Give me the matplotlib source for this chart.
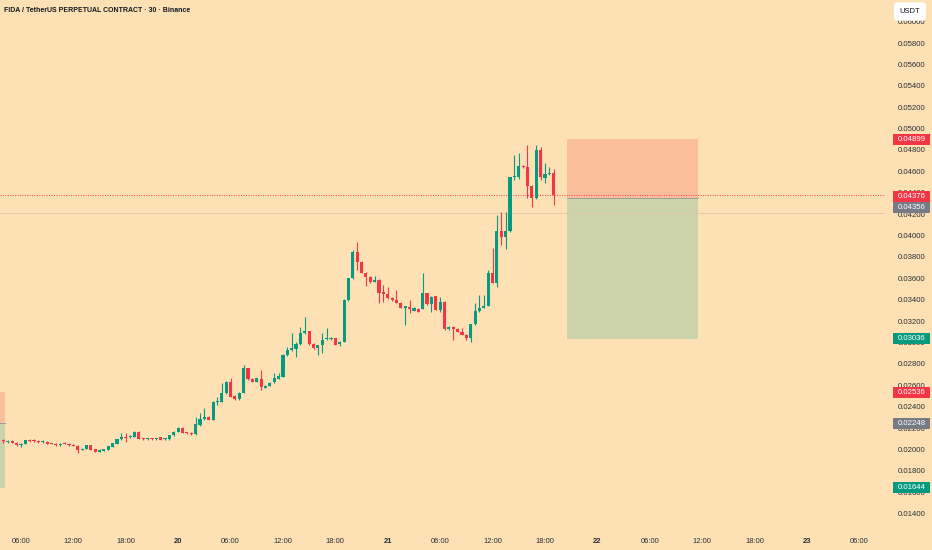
import numpy as np
import matplotlib.pyplot as plt
from matplotlib.patches import Rectangle
from matplotlib.transforms import blended_transform_factory
from matplotlib import font_manager

## Candles: FIDA/USDT 30 min, starting 19th 04:00 (hours counted from the 19th 00:00)
start_hour = 4.0
step_hours = 0.5

opens = [0.02085, 0.02071, 0.02080, 0.02064, 0.02043, 0.02052, 0.02087, 0.02090, 0.02080, 0.02071,
         0.02074, 0.02062, 0.02055, 0.02043, 0.02059, 0.02052, 0.02046, 0.02034, 0.01996, 0.02006,
         0.02040, 0.02006, 0.01980, 0.01990, 0.01996, 0.02027, 0.02055, 0.02096, 0.02121, 0.02115,
         0.02121, 0.02167, 0.02106, 0.02099, 0.02106, 0.02099, 0.02115, 0.02096, 0.02096, 0.02136,
         0.02162, 0.02205, 0.02164, 0.02155, 0.02146, 0.02230, 0.02283, 0.02307, 0.02277, 0.02442,
         0.02448, 0.02526, 0.02635, 0.02501, 0.02470, 0.02532, 0.02760, 0.02657, 0.02635, 0.02657,
         0.02579, 0.02594, 0.02629, 0.02663, 0.02682, 0.02884, 0.02931, 0.02937, 0.02987, 0.03087,
         0.03108, 0.02987, 0.02947, 0.02978, 0.03031, 0.03031, 0.03040, 0.02987, 0.03008, 0.03398,
         0.03601, 0.03849, 0.03756, 0.03653, 0.03610, 0.03566, 0.03585, 0.03476, 0.03454, 0.03417,
         0.03398, 0.03373, 0.03326, 0.03330, 0.03295, 0.03317, 0.03317, 0.03461, 0.03361, 0.03435,
         0.03305, 0.03382, 0.03127, 0.03149, 0.03127, 0.03102, 0.03074, 0.03040, 0.03171, 0.03295,
         0.03326, 0.03345, 0.03653, 0.03560, 0.04043, 0.03990, 0.04043, 0.04545, 0.04551, 0.04650,
         0.04638, 0.04463, 0.04349, 0.04800, 0.04541, 0.04573, 0.04582]
highs = [0.02099, 0.02090, 0.02090, 0.02071, 0.02062, 0.02090, 0.02099, 0.02099, 0.02090, 0.02085,
         0.02080, 0.02066, 0.02062, 0.02057, 0.02071, 0.02062, 0.02052, 0.02043, 0.02015, 0.02043,
         0.02043, 0.02010, 0.02001, 0.02010, 0.02038, 0.02066, 0.02099, 0.02152, 0.02152, 0.02136,
         0.02174, 0.02174, 0.02108, 0.02108, 0.02108, 0.02113, 0.02118, 0.02108, 0.02141, 0.02174,
         0.02211, 0.02211, 0.02169, 0.02164, 0.02307, 0.02339, 0.02386, 0.02313, 0.02454, 0.02494,
         0.02620, 0.02641, 0.02666, 0.02506, 0.02538, 0.02791, 0.02763, 0.02669, 0.02671, 0.02744,
         0.02604, 0.02632, 0.02713, 0.02719, 0.02889, 0.02962, 0.03087, 0.03008, 0.03148, 0.03242,
         0.03113, 0.02992, 0.02982, 0.03087, 0.03134, 0.03048, 0.03043, 0.03015, 0.03403, 0.03608,
         0.03865, 0.03943, 0.03763, 0.03660, 0.03618, 0.03625, 0.03590, 0.03538, 0.03522, 0.03422,
         0.03492, 0.03379, 0.03346, 0.03398, 0.03333, 0.03323, 0.03653, 0.03464, 0.03435, 0.03440,
         0.03429, 0.03389, 0.03155, 0.03155, 0.03132, 0.03134, 0.03076, 0.03178, 0.03367, 0.03445,
         0.03445, 0.03679, 0.03881, 0.04192, 0.04223, 0.04223, 0.04548, 0.04753, 0.04769, 0.04660,
         0.04847, 0.04473, 0.04847, 0.04828, 0.04676, 0.04644, 0.04625]
lows = [0.02062, 0.02062, 0.02057, 0.02034, 0.02027, 0.02048, 0.02071, 0.02071, 0.02062, 0.02066,
        0.02052, 0.02048, 0.02034, 0.02038, 0.02048, 0.02034, 0.02029, 0.01972, 0.01992, 0.02001,
        0.01992, 0.01978, 0.01978, 0.01987, 0.01992, 0.02024, 0.02052, 0.02094, 0.02074, 0.02111,
        0.02118, 0.02099, 0.02090, 0.02094, 0.02094, 0.02094, 0.02085, 0.02090, 0.02094, 0.02127,
        0.02160, 0.02155, 0.02146, 0.02141, 0.02141, 0.02225, 0.02281, 0.02272, 0.02272, 0.02417,
        0.02445, 0.02524, 0.02492, 0.02464, 0.02468, 0.02529, 0.02650, 0.02632, 0.02632, 0.02557,
        0.02573, 0.02590, 0.02627, 0.02660, 0.02679, 0.02879, 0.02926, 0.02868, 0.02982, 0.03085,
        0.02982, 0.02940, 0.02884, 0.02900, 0.03024, 0.03024, 0.02973, 0.02968, 0.03006, 0.03393,
        0.03594, 0.03678, 0.03650, 0.03529, 0.03557, 0.03562, 0.03367, 0.03382, 0.03407, 0.03389,
        0.03370, 0.03319, 0.03164, 0.03274, 0.03291, 0.03286, 0.03314, 0.03351, 0.03289, 0.03300,
        0.03286, 0.03122, 0.03122, 0.03024, 0.03099, 0.03071, 0.03024, 0.03008, 0.03169, 0.03289,
        0.03323, 0.03342, 0.03557, 0.03522, 0.03912, 0.03872, 0.04038, 0.04520, 0.04526, 0.04631,
        0.04349, 0.04270, 0.04342, 0.04520, 0.04489, 0.04566, 0.04286]
closes = [0.02076, 0.02080, 0.02064, 0.02043, 0.02052, 0.02087, 0.02080, 0.02080, 0.02071, 0.02080,
          0.02055, 0.02052, 0.02040, 0.02052, 0.02052, 0.02040, 0.02034, 0.01996, 0.02008, 0.02040,
          0.01996, 0.01980, 0.01996, 0.02006, 0.02034, 0.02062, 0.02096, 0.02121, 0.02111, 0.02127,
          0.02167, 0.02102, 0.02096, 0.02106, 0.02099, 0.02106, 0.02090, 0.02106, 0.02136, 0.02167,
          0.02205, 0.02158, 0.02152, 0.02146, 0.02236, 0.02283, 0.02307, 0.02277, 0.02448, 0.02454,
          0.02526, 0.02635, 0.02494, 0.02470, 0.02532, 0.02760, 0.02657, 0.02635, 0.02666, 0.02582,
          0.02594, 0.02625, 0.02666, 0.02688, 0.02884, 0.02931, 0.02947, 0.02987, 0.03087, 0.03108,
          0.02987, 0.02947, 0.02978, 0.03024, 0.03040, 0.03040, 0.02978, 0.03008, 0.03398, 0.03601,
          0.03849, 0.03756, 0.03653, 0.03610, 0.03563, 0.03585, 0.03461, 0.03454, 0.03414, 0.03398,
          0.03373, 0.03326, 0.03339, 0.03317, 0.03326, 0.03289, 0.03461, 0.03361, 0.03429, 0.03305,
          0.03382, 0.03127, 0.03149, 0.03127, 0.03102, 0.03074, 0.03040, 0.03171, 0.03295, 0.03326,
          0.03345, 0.03653, 0.03560, 0.04043, 0.03990, 0.04043, 0.04545, 0.04557, 0.04650, 0.04638,
          0.04463, 0.04349, 0.04800, 0.04551, 0.04573, 0.04588, 0.04376]

## Position tools (short): stop / entry / target, start and end in hours
pos_stop, pos_entry, pos_target = 0.04899, 0.04356, 0.03036
pos_start, pos_end = 68.5, 83.5
old_stop, old_entry, old_target = 0.02536, 0.02248, 0.01644
old_start, old_end = -10.0, 4.2
last_price = 0.04376
level_line = 0.04208

time_ticks = [6, 12, 18, 24, 30, 36, 42, 48, 54, 60, 66, 72, 78, 84, 90, 96, 102]
time_labels = ["06:00", "12:00", "18:00", "20", "06:00", "12:00", "18:00", "21", "06:00",
               "12:00", "18:00", "22", "06:00", "12:00", "18:00", "23", "06:00"]
title = "FIDA / TetherUS PERPETUAL CONTRACT · 30 · Binance"

BG = "#FDE1B4"
UP = "#089981"
DOWN = "#F23645"
GREY = "#787B86"
TXT = "#2A2E39"
plt.rcParams['font.family'] = ['Liberation Sans', 'DejaVu Sans']
installed = {f.name for f in font_manager.fontManager.ttflist}
title_font = 'Liberation Sans Narrow' if 'Liberation Sans Narrow' in installed else 'Liberation Sans'
title_size = 6.2 if title_font == 'Liberation Sans Narrow' else 5.0

o = np.array(opens); h = np.array(highs); l = np.array(lows); c = np.array(closes)
t = start_hour + step_hours*np.arange(len(o))
cols = np.where(c >= o, UP, DOWN)

fig = plt.figure(figsize=(9.32, 5.5), dpi=100, facecolor=BG)
ax = fig.add_axes([0, 22/550, 885/932, 528/550])
ax.set_facecolor(BG)
for s in ax.spines.values():
    s.set_visible(False)
ymin, ymax = 0.012672, 0.062019
ax.set_xlim(3.6, 104.94)
ax.set_ylim(ymin, ymax)
px = (ymax - ymin)/528.0   # price per pixel

# position boxes
for x0, x1, stop, entry, target in [(pos_start, pos_end, pos_stop, pos_entry, pos_target),
                                    (old_start, old_end, old_stop, old_entry, old_target)]:
    ax.add_patch(Rectangle((x0, entry), x1-x0, stop-entry, fc=DOWN, alpha=0.2, lw=0))
    ax.add_patch(Rectangle((x0, target), x1-x0, entry-target, fc=UP, alpha=0.2, lw=0))
    ax.plot([x0, x1], [entry, entry], color=GREY, lw=0.6, alpha=0.7)

ax.axhline(level_line, color="#DEC6A4", lw=0.6, zorder=1)
ax.axhline(last_price, color=DOWN, lw=0.7, ls=(0, (1, 1.5)), zorder=1)

# candles
ax.vlines(t, l, h, colors=cols, lw=0.8, zorder=3)
body = np.maximum(np.abs(c - o), 0.00008)
ax.bar(t, body, bottom=np.minimum(o, c), width=0.36, color=cols, lw=0, zorder=4)

# axes
ax.yaxis.tick_right()
ax.set_yticks(np.arange(0.014, 0.0601, 0.002))
ax.yaxis.set_major_formatter(plt.FormatStrFormatter("%.5f"))
ax.tick_params(axis='y', length=0, pad=9, labelsize=5.6, labelcolor=TXT)
ax.set_xticks(time_ticks)
ax.set_xticklabels(time_labels)
ax.tick_params(axis='x', length=0, pad=7, labelsize=5.5, labelcolor=TXT)
for lab in ax.get_xticklabels():
    if ":" not in lab.get_text():
        lab.set_fontweight("bold")

# price tags on the right axis
trans = blended_transform_factory(ax.transAxes, ax.transData)
def price_tag(value, color, shift_px=0):
    y = value - shift_px*px
    ax.add_patch(Rectangle((1 + 8/885, y - 5.5*px), 37/885, 11*px, transform=trans,
                           fc=color, lw=0, clip_on=False, zorder=5))
    ax.text(1 + 12.5/885, y, f"{value:.5f}", transform=trans, ha="left", va="center",
            fontsize=5.6, color="white", clip_on=False, zorder=6)

price_tag(pos_stop, DOWN)
price_tag(last_price, DOWN, 1.5)
price_tag(pos_entry, GREY, 10)
price_tag(pos_target, UP)
price_tag(old_stop, DOWN)
price_tag(old_entry, GREY)
price_tag(old_target, UP)

fig.text(4/932, 1 - 10/550, title, fontsize=title_size, fontweight="bold", color="#131722",
         ha="left", va="center", family=[title_font, 'DejaVu Sans'])
fig.text(910/932, 1 - 11.5/550, "USDT", fontsize=5.5, color="#131722", ha="center", va="center",
         bbox=dict(boxstyle="round,pad=0.75,rounding_size=0.5", fc="white", ec="none"))

fig.savefig("out.png", dpi=100, facecolor=BG)
